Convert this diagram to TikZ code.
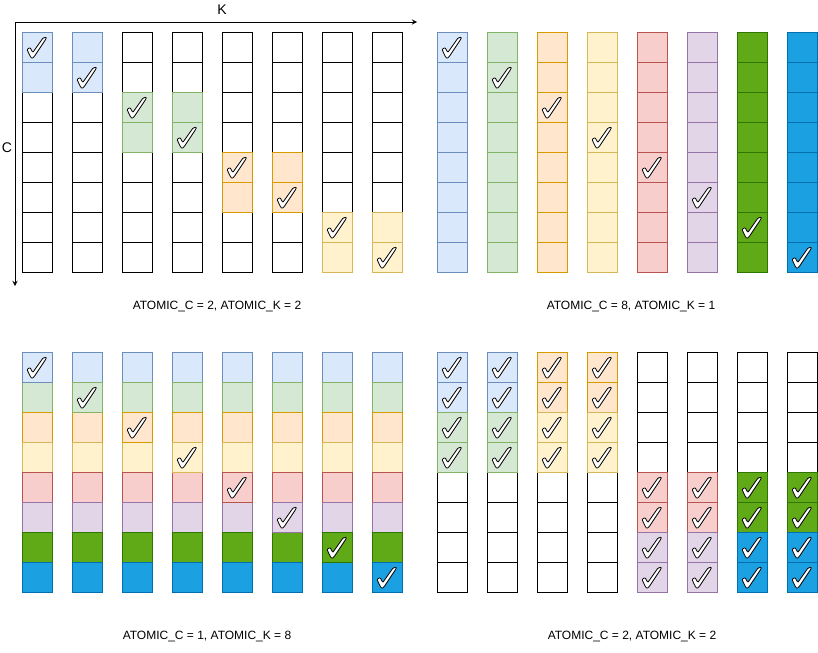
\documentclass[tikz,border=0pt]{standalone}
\usepackage{fontspec}
\setmainfont{Liberation Sans}
\usetikzlibrary{positioning}

\definecolor{f0}{HTML}{DAE8FC} \definecolor{d0}{HTML}{6C8EBF}
\definecolor{f1}{HTML}{D5E8D4} \definecolor{d1}{HTML}{82B366}
\definecolor{f2}{HTML}{FFE6CC} \definecolor{d2}{HTML}{D79B00}
\definecolor{f3}{HTML}{FFF2CC} \definecolor{d3}{HTML}{D6B656}
\definecolor{f4}{HTML}{F8CECC} \definecolor{d4}{HTML}{B85450}
\definecolor{f5}{HTML}{E1D5E7} \definecolor{d5}{HTML}{9673A6}
\definecolor{f6}{HTML}{60A917} \definecolor{d6}{HTML}{2D7600}
\definecolor{f7}{HTML}{1BA1E2} \definecolor{d7}{HTML}{006EAF}
\definecolor{f8}{HTML}{FFFFFF} \definecolor{d8}{HTML}{000000}

\begin{document}
\begin{tikzpicture}[x=0.75pt, y=-0.75pt]

\newcommand{\cellW}{30}    % 格子宽
\newcommand{\cellH}{30}    % 格子高
\newcommand{\colStep}{50}  % 列间距

% #1,#2 面板左上角, #3 颜色编号, #4 列, #5 行
\newcommand{\drawcell}[5]{%
  \draw[fill=f#3, draw=d#3, line width=0.75pt]
    ({#1+#4*\colStep},{#2+#5*\cellH}) rectangle ++(\cellW,\cellH);}

% #1,#2 面板左上角, #3 列, #4 行
\newcommand{\tickmark}[4]{%
  \draw[fill=white, draw=black, line width=0.6pt, rounded corners=0.6pt,
    shift={({#1+#3*\colStep},{#2+#4*\cellH})}]
    (5,17.5) -- (8,15.5) -- (10.8,20.5) -- (21,6) -- (24.5,5.2) -- (23.8,7.2)
    -- (12.3,24.5) -- (10,26.5) -- (8.3,24.5) -- cycle;}

\useasboundingbox (0,0) rectangle (818,653);

% 坐标轴
\coordinate (O) at (15,22);
\coordinate (Kend) at (417,22);
\coordinate (Cend) at (15,286);
\draw[line width=0.75pt, -stealth] (O) -- (Kend);
\draw[line width=0.75pt, -stealth] (O) -- (Cend);
\node[font=\fontsize{10.5}{12}\selectfont] (K) at (222,10) {K};
\node[font=\fontsize{10.5}{12}\selectfont] (C) at (7,148) {C};

% ATOMIC_C = 2, ATOMIC_K = 2
\foreach \i in {0,...,7}{
  \foreach \j in {0,...,7}{\drawcell{22}{32}{8}{\i}{\j}}
  \pgfmathtruncatemacro{\grp}{int(\i/2)}
  \pgfmathtruncatemacro{\rowA}{2*\grp}
  \pgfmathtruncatemacro{\rowB}{2*\grp+1}
  \drawcell{22}{32}{\grp}{\i}{\rowA}
  \drawcell{22}{32}{\grp}{\i}{\rowB}
  \tickmark{22}{32}{\i}{\i}
}

% ATOMIC_C = 8, ATOMIC_K = 1
\foreach \i in {0,...,7}{
  \foreach \j in {0,...,7}{\drawcell{437}{32}{\i}{\i}{\j}}
  \tickmark{437}{32}{\i}{\i}
}

% ATOMIC_C = 1, ATOMIC_K = 8
\foreach \i in {0,...,7}{
  \foreach \j in {0,...,7}{\drawcell{22}{352}{\j}{\i}{\j}}
  \drawcell{22}{352}{\i}{\i}{\i}
  \tickmark{22}{352}{\i}{\i}
}

% ATOMIC_C = 2, ATOMIC_K = 2
\foreach \i in {0,...,7}{
  \pgfmathtruncatemacro{\colA}{2*int(\i/2)}
  \pgfmathtruncatemacro{\colB}{\colA+1}
  \pgfmathtruncatemacro{\rowS}{4*int(\i/4)}
  \foreach \j in {0,...,7}{\drawcell{437}{352}{8}{\i}{\j}}
  \foreach \k in {0,1,2,3}{
    \pgfmathtruncatemacro{\rowN}{\rowS+\k}
    \pgfmathtruncatemacro{\colN}{\k<2 ? \colA : \colB}
    \drawcell{437}{352}{\colN}{\i}{\rowN}
    \tickmark{437}{352}{\i}{\rowN}
  }
}

\node[font=\fontsize{9}{10}\selectfont] (lab1) at (217,306) {ATOMIC\_C = 2, ATOMIC\_K = 2};
\node[font=\fontsize{9}{10}\selectfont] (lab2) at (631,306) {ATOMIC\_C = 8, ATOMIC\_K = 1};
\node[font=\fontsize{9}{10}\selectfont] (lab3) at (207,636) {ATOMIC\_C = 1, ATOMIC\_K = 8};
\node[font=\fontsize{9}{10}\selectfont] (lab4) at (632,636) {ATOMIC\_C = 2, ATOMIC\_K = 2};

\end{tikzpicture}
\end{document}
